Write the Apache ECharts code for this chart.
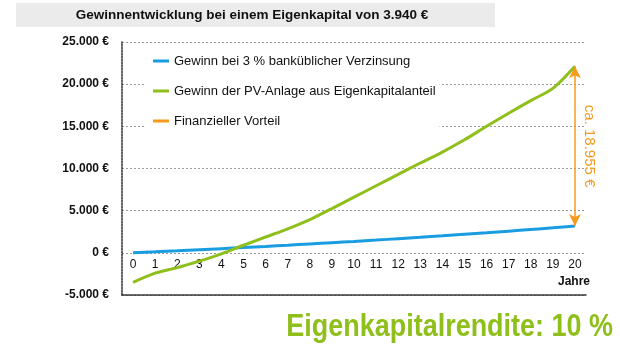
<!DOCTYPE html>
<html>
<head>
<meta charset="utf-8">
<script src="https://cdn.jsdelivr.net/npm/echarts@6/dist/echarts.min.js"></script>
<style>
  html, body { margin: 0; padding: 0; background: #fff; }
  #chart { width: 620px; height: 345px; }
</style>
</head>
<body>
<div id="chart"></div>
<script>
// Years after commissioning
const years = ['0','1','2','3','4','5','6','7','8','9','10','11','12','13','14','15','16','17','18','19','20'];

// Cumulative profit with 3 % bank interest on 3.940 € equity (€)
const bankProfit = [0, 118, 240, 365, 494, 628, 765, 906, 1051, 1201, 1355, 1514, 1678, 1846, 2019, 2198, 2381, 2570, 2765, 2965, 3176];

// Cumulative profit of the PV system on the equity share (€)
const pvProfit = [-3500, -2400, -1750, -980, -120, 900, 1880, 2850, 3950, 5250, 6600, 7950, 9300, 10650, 11950, 13400, 15000, 16550, 18050, 19500, 22131];

// Value-axis ticks
const yTicks = [-5000, 0, 5000, 10000, 15000, 20000, 25000];

const seriesNames = [
  'Gewinn bei 3 % banküblicher Verzinsung',
  'Gewinn der PV-Anlage aus Eigenkapitalanteil',
  'Finanzieller Vorteil'
];

const BLUE = '#1a9de0';
const GREEN = '#8fbf1a';
const ORANGE = '#f59a1b';
const FONT = '"Liberation Sans", Arial, sans-serif';

function euro(v) {
  const s = Math.abs(v).toString().replace(/\B(?=(\d{3})+(?!\d))/g, '.');
  return (v < 0 ? '-' : '') + s + ' €';
}

const lastIdx = years.length - 1;
const advantage = pvProfit[lastIdx] - bankProfit[lastIdx];

const chart = echarts.init(document.getElementById('chart'), null, { renderer: 'canvas' });

chart.setOption({
  animation: false,
  textStyle: { fontFamily: FONT },
  graphic: [
    {
      type: 'rect',
      shape: { x: 16, y: 3, width: 479, height: 24 },
      style: { fill: '#ebebeb' },
      z: 0
    },
    {
      type: 'text',
      x: 252, y: 15,
      style: {
        text: 'Gewinnentwicklung bei einem Eigenkapital von 3.940 €',
        fontFamily: FONT, fontSize: 13.5, fontWeight: 'bold',
        fill: '#111', align: 'center', verticalAlign: 'middle'
      },
      z: 1
    },
    {
      type: 'text',
      x: 590, y: 282,
      style: {
        text: 'Jahre', fontFamily: FONT, fontSize: 12, fontWeight: 'bold',
        fill: '#111', align: 'right', verticalAlign: 'middle'
      }
    },
    {
      type: 'text',
      x: 613, y: 327,
      scaleX: 0.87,
      style: {
        text: 'Eigenkapitalrendite: ' + '10 %',
        fontFamily: FONT, fontSize: 31, fontWeight: 'bold',
        fill: GREEN, align: 'right', verticalAlign: 'middle'
      }
    }
  ],
  legend: {
    orient: 'vertical',
    left: 145, top: 48,
    padding: [6, 4, 6, 8],
    backgroundColor: '#fff',
    itemGap: 16,
    itemWidth: 16, itemHeight: 3,
    icon: 'rect',
    textStyle: { fontFamily: FONT, fontSize: 13, color: '#111', lineHeight: 14 },
    data: seriesNames
  },
  grid: { left: 122, right: 34, top: 42, bottom: 50, containLabel: false },
  xAxis: {
    type: 'category',
    data: years,
    boundaryGap: true,
    position: 'bottom',
    // the axis line frames the bottom of the plot; its labels sit just under the zero line
    axisLine: { onZero: false, lineStyle: { color: '#333', type: [2, 1], width: 1.5 } },
    axisTick: { show: false },
    axisLabel: { fontFamily: FONT, fontSize: 12, color: '#111', margin: -36, interval: 0 },
    splitLine: { show: false }
  },
  yAxis: {
    type: 'value',
    min: yTicks[0], max: yTicks[yTicks.length - 1], interval: 5000,
    axisLine: { show: true, lineStyle: { color: '#333', type: [2, 1], width: 1.5 } },
    axisTick: { show: false },
    axisLabel: {
      fontFamily: FONT, fontSize: 12, fontWeight: 'bold', color: '#111', margin: 13,
      formatter: v => yTicks.includes(v) ? euro(v) : ''
    },
    splitLine: {
      show: true,
      lineStyle: { color: '#9a9a9a', type: [2, 2], width: 1 }
    }
  },
  series: [
    {
      name: seriesNames[0],
      type: 'line',
      data: bankProfit,
      symbol: 'none',
      smooth: 0.2,
      color: BLUE,
      lineStyle: { color: BLUE, width: 3 },
      z: 3
    },
    {
      name: seriesNames[1],
      type: 'line',
      data: pvProfit,
      symbol: 'none',
      smooth: 0.3,
      color: GREEN,
      lineStyle: { color: GREEN, width: 3 },
      z: 3
    },
    {
      name: seriesNames[2],
      type: 'line',
      data: [],
      symbol: 'none',
      color: ORANGE,
      lineStyle: { color: ORANGE, width: 2 },
      markLine: {
        silent: true,
        symbol: ['arrow', 'arrow'],
        symbolSize: [9, 12],
        lineStyle: { color: ORANGE, width: 1.5, type: 'solid' },
        label: {
          show: true,
          position: 'insideMiddleTop',
          distance: 7,
          color: ORANGE,
          fontFamily: FONT,
          fontSize: 15,
          formatter: 'ca. ' + euro(advantage)
        },
        data: [[
          { coord: [years[lastIdx], pvProfit[lastIdx]] },
          { coord: [years[lastIdx], bankProfit[lastIdx]] }
        ]]
      }
    }
  ]
});
</script>
</body>
</html>
